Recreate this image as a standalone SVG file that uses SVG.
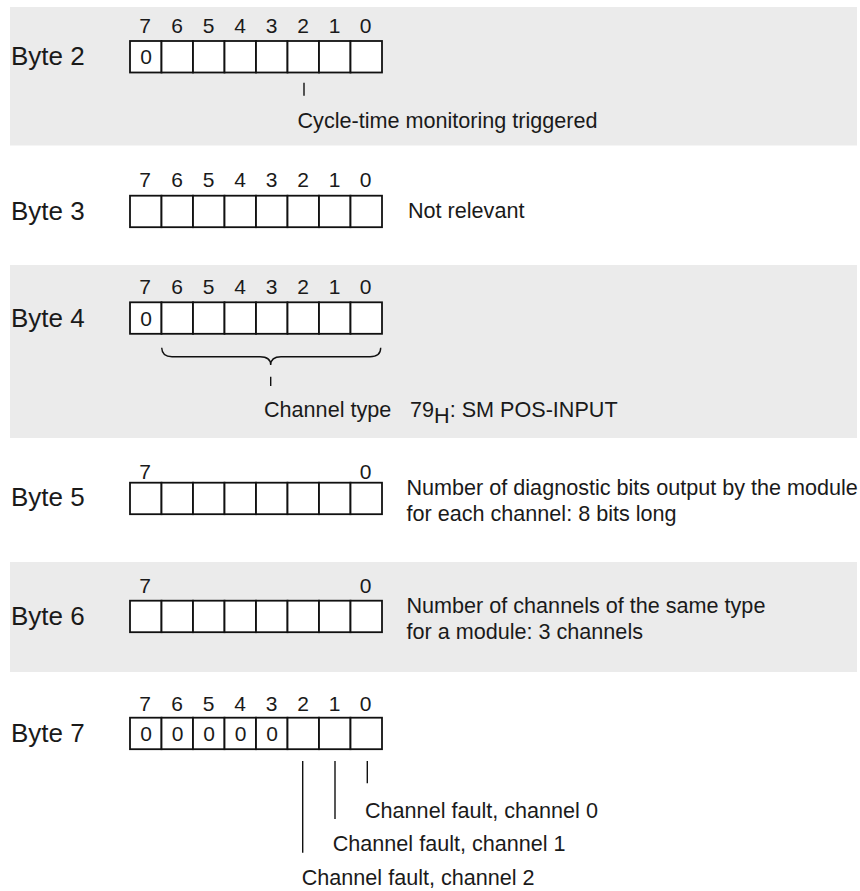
<svg xmlns="http://www.w3.org/2000/svg" width="860" height="891" viewBox="0 0 860 891">
<style>
.band{fill:#ebebeb}
.lbl{font-family:"Liberation Sans",Arial,sans-serif;font-size:26px;fill:#1a1a1a}
.bit{font-family:"Liberation Sans",Arial,sans-serif;font-size:21px;fill:#1a1a1a;text-anchor:middle}
.txt{font-family:"Liberation Sans",Arial,sans-serif;font-size:21.6px;fill:#1a1a1a}
.cell{fill:#fff;stroke:#111;stroke-width:1.8}
.ln{stroke:#111;stroke-width:1.4;fill:none}
</style>
<defs>
<g id="byte">
<rect class="cell" x="130" y="0" width="31.5" height="31.5"/>
<rect class="cell" x="161.5" y="0" width="31.5" height="31.5"/>
<rect class="cell" x="193" y="0" width="31.5" height="31.5"/>
<rect class="cell" x="224.5" y="0" width="31.5" height="31.5"/>
<rect class="cell" x="256" y="0" width="31.5" height="31.5"/>
<rect class="cell" x="287.5" y="0" width="31.5" height="31.5"/>
<rect class="cell" x="319" y="0" width="31.5" height="31.5"/>
<rect class="cell" x="350.5" y="0" width="31.5" height="31.5"/>
</g>
<g id="bits">
<text class="bit" x="145" y="0">7</text>
<text class="bit" x="177" y="0">6</text>
<text class="bit" x="208.5" y="0">5</text>
<text class="bit" x="240" y="0">4</text>
<text class="bit" x="271.5" y="0">3</text>
<text class="bit" x="303" y="0">2</text>
<text class="bit" x="334.5" y="0">1</text>
<text class="bit" x="365.5" y="0">0</text>
</g>
</defs>
<rect width="860" height="891" fill="#fff"/>
<rect class="band" x="10" y="7" width="847" height="138.5"/>
<rect class="band" x="10" y="265" width="847" height="173"/>
<rect class="band" x="10" y="562" width="847" height="110"/>

<g id="byte2">
<text class="lbl" x="11" y="65">Byte 2</text>
<use href="#bits" y="32.5"/>
<use href="#byte" y="41"/>
<text class="bit" x="146" y="64">0</text>
<text class="txt" x="297.5" y="128">Cycle-time monitoring triggered</text>
</g>

<g id="byte3">
<text class="lbl" x="11" y="220">Byte 3</text>
<use href="#bits" y="187"/>
<use href="#byte" y="195.7"/>
<text class="txt" x="408" y="218">Not relevant</text>
</g>

<g id="byte4">
<text class="lbl" x="11" y="326.5">Byte 4</text>
<use href="#bits" y="294"/>
<use href="#byte" y="302.3"/>
<text class="bit" x="146" y="325.5">0</text>
<text class="txt" x="264" y="417">Channel type</text>
<text class="txt" x="410" y="417">79<tspan dy="5.5">H</tspan><tspan dy="-5.5">: SM POS-INPUT</tspan></text>
</g>

<g id="byte5">
<text class="lbl" x="11" y="506">Byte 5</text>
<text class="bit" x="145" y="478.5">7</text>
<text class="bit" x="365.5" y="478.5">0</text>
<use href="#byte" y="482.7"/>
<text class="txt" x="406.5" y="495">Number of diagnostic bits output by the module</text>
<text class="txt" x="406.5" y="521">for each channel: 8 bits long</text>
</g>

<g id="byte6">
<text class="lbl" x="11" y="625">Byte 6</text>
<text class="bit" x="145" y="592.5">7</text>
<text class="bit" x="365.5" y="592.5">0</text>
<use href="#byte" y="600.7"/>
<text class="txt" x="406.5" y="613">Number of channels of the same type</text>
<text class="txt" x="406.5" y="639">for a module: 3 channels</text>
</g>

<g id="byte7">
<text class="lbl" x="11" y="741.7">Byte 7</text>
<use href="#bits" y="710.7"/>
<use href="#byte" y="717.7"/>
<text class="bit" x="146" y="741">0</text>
<text class="bit" x="177.5" y="741">0</text>
<text class="bit" x="209" y="741">0</text>
<text class="bit" x="240.5" y="741">0</text>
<text class="bit" x="272" y="741">0</text>
<text class="txt" x="365" y="817.7">Channel fault, channel 0</text>
<text class="txt" x="332.7" y="851">Channel fault, channel 1</text>
<text class="txt" x="301.7" y="885">Channel fault, channel 2</text>
</g>

<g id="connectors">
<line class="ln" x1="304" y1="82.7" x2="304" y2="95.7"/>
<path class="ln" d="M161.7,347.7 Q162,356.7 172,356.7 L260,356.7 Q270.7,356.7 270.7,365 Q270.7,356.7 281,356.7 L370,356.7 Q380.7,356.7 380.7,347.7"/>
<line class="ln" x1="270.7" y1="376.7" x2="270.7" y2="386"/>
<line class="ln" x1="302.7" y1="761" x2="302.7" y2="852.7"/>
<line class="ln" x1="335" y1="761" x2="335" y2="819"/>
<line class="ln" x1="367.3" y1="761" x2="367.3" y2="783.3"/>
</g>
</svg>
